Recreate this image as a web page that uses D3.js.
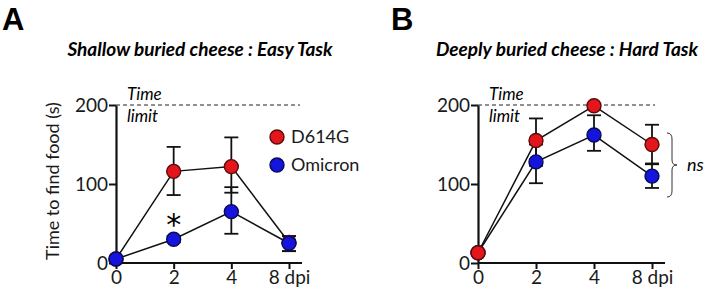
<!DOCTYPE html>
<html>
<head>
<meta charset="utf-8">
<script src="https://cdn.jsdelivr.net/npm/d3@7"></script>
<style>
  body { margin: 0; background: #fff; }
  svg { display: block; font-family: Lato, "Open Sans", sans-serif; }
</style>
</head>
<body>
<svg id="chart"></svg>
<script>
// x categories (days post infection)
const days = ["0", "2", "4", "8 dpi"];
const yTicks = [0, 100, 200];
const timeLimit = 200;

// panel A : easy task
const easyD614G = [5, 116, 122, 26];
const easyD614GHi = [5, 147, 159, 34];
const easyD614GLo = [5, 86, 89, 15];
const easyOmicron = [5, 30, 65, 25];
const easyOmicronHi = [5, 34, 96, 34];
const easyOmicronLo = [5, 26, 37, 15];

// panel B : hard task
const hardD614G = [13, 155, 199, 150];
const hardD614GHi = [13, 183, 199, 175];
const hardD614GLo = [13, 123, 199, 126];
const hardOmicron = [13, 128, 162, 110];
const hardOmicronHi = [13, 150, 187, 125];
const hardOmicronLo = [13, 101, 142, 95];

const red = {fill: "#e3161b", stroke: "#5c0a0a"};
const blue = {fill: "#1414dc", stroke: "#0a0a55"};

const svg = d3.select("#chart").attr("width", 709).attr("height", 291);

function drawPanel(cfg){
    let g = svg.append("g");
    let x = d3.scalePoint().domain(days).range([cfg.x0, cfg.x1]);
    let y = d3.scaleLinear().domain([0, 200]).range([263, 105]);

    g.append("text")
        .attr("x", cfg.letterX).attr("y", 30)
        .style("font-family", "Liberation Sans, Arial, sans-serif")
        .style("font-weight", "bold").style("font-size", "31px")
        .text(cfg.letter);
    g.append("text")
        .attr("x", cfg.titleX).attr("y", 56)
        .attr("text-anchor", "middle")
        .style("font-weight", "bold").style("font-style", "italic").style("font-size", "19px")
        .text(cfg.title);

    // time limit
    g.append("line")
        .attr("x1", cfg.x0).attr("x2", cfg.dashEnd)
        .attr("y1", y(timeLimit)).attr("y2", y(timeLimit))
        .attr("stroke", "#222").attr("stroke-width", 1).attr("stroke-dasharray", "4,3");
    g.append("text").attr("x", cfg.x0 + 11).attr("y", 100)
        .style("font-style", "italic").style("font-size", "17px").text("Time");
    g.append("text").attr("x", cfg.x0 + 11).attr("y", 122)
        .style("font-style", "italic").style("font-size", "17px").text("limit");

    // axes
    let yAxis = g.append("g")
        .attr("transform", `translate(${cfg.x0},0)`)
        .call(d3.axisLeft(y).tickValues(yTicks).tickSize(7).tickPadding(1).tickSizeOuter(0));
    let xAxis = g.append("g")
        .attr("transform", `translate(0,263)`)
        .call(d3.axisBottom(x).tickSize(6).tickPadding(2).tickSizeOuter(0));
    xAxis.select(".domain").attr("d", `M${cfg.x0},0H${cfg.axisEnd}`);
    [yAxis, xAxis].forEach(a => {
        a.select(".domain").attr("stroke", "#111").attr("stroke-width", 2.2);
        a.selectAll(".tick line").attr("stroke", "#111").attr("stroke-width", 2);
        a.selectAll(".tick text").attr("fill", "#1a1a1a")
            .style("font-family", "Lato, sans-serif").style("font-size", "19px");
    });

    // series
    cfg.series.forEach(s => {
        let pts = days.map((d, i) => ({d: d, v: s.vals[i], hi: s.hi[i], lo: s.lo[i]}));
        g.append("path")
            .datum(pts)
            .attr("fill", "none").attr("stroke", "#111").attr("stroke-width", 1.5)
            .attr("d", d3.line().x(p => x(p.d)).y(p => y(p.v)));
        let eb = g.append("g").selectAll("g").data(pts).join("g");
        eb.append("line")
            .attr("x1", p => x(p.d)).attr("x2", p => x(p.d))
            .attr("y1", p => y(p.hi)).attr("y2", p => y(p.lo))
            .attr("stroke", "#111").attr("stroke-width", 1.8);
        eb.append("line")
            .attr("x1", p => x(p.d) - 7).attr("x2", p => x(p.d) + 7)
            .attr("y1", p => y(p.hi)).attr("y2", p => y(p.hi))
            .attr("stroke", "#111").attr("stroke-width", 1.8);
        eb.append("line")
            .attr("x1", p => x(p.d) - 7).attr("x2", p => x(p.d) + 7)
            .attr("y1", p => y(p.lo)).attr("y2", p => y(p.lo))
            .attr("stroke", "#111").attr("stroke-width", 1.8);
    });
    cfg.series.forEach(s => {
        g.append("g").selectAll("circle")
            .data(s.vals)
            .join("circle")
            .attr("cx", (v, i) => x(days[i])).attr("cy", v => y(v))
            .attr("r", 7)
            .attr("fill", s.color.fill).attr("stroke", s.color.stroke).attr("stroke-width", 1.4);
    });
    return {g: g, x: x, y: y};
}

let pA = drawPanel({
    letter: "A", letterX: 2, title: "Shallow buried cheese : Easy Task", titleX: 200,
    x0: 116, x1: 289, axisEnd: 302, dashEnd: 300,
    series: [
        {vals: easyD614G, hi: easyD614GHi, lo: easyD614GLo, color: red},
        {vals: easyOmicron, hi: easyOmicronHi, lo: easyOmicronLo, color: blue}
    ]
});
let pB = drawPanel({
    letter: "B", letterX: 391, title: "Deeply buried cheese : Hard Task", titleX: 567,
    x0: 478, x1: 652, axisEnd: 665, dashEnd: 655,
    series: [
        {vals: hardOmicron, hi: hardOmicronHi, lo: hardOmicronLo, color: blue},
        {vals: hardD614G, hi: hardD614GHi, lo: hardD614GLo, color: red}
    ]
});

// y label
svg.append("text")
    .attr("transform", "translate(59,181) rotate(-90)")
    .attr("text-anchor", "middle")
    .style("font-size", "18px").attr("fill", "#1a1a1a")
    .text("Time to find food (s)");

// legend
const legend = [{name: "D614G", color: red}, {name: "Omicron", color: blue}];
let lg = svg.append("g").selectAll("g").data(legend).join("g")
    .attr("transform", (d, i) => `translate(277,${137 + i * 28})`);
lg.append("circle").attr("r", 7)
    .attr("fill", d => d.color.fill).attr("stroke", d => d.color.stroke).attr("stroke-width", 1.4);
lg.append("text").attr("x", 14).attr("y", 6)
    .style("font-size", "18px").attr("fill", "#1a1a1a")
    .text(d => d.name);

// significance marks
svg.append("text")
    .attr("x", pA.x("2")).attr("y", 235)
    .attr("text-anchor", "middle")
    .style("font-family", "DejaVu Sans, sans-serif").style("font-size", "30px")
    .text("*");

let bx = 667, by0 = 133, by1 = 197, bm = (by0 + by1) / 2;
svg.append("path")
    .attr("d", `M${bx},${by0} Q${bx + 5},${by0} ${bx + 5},${by0 + 6} L${bx + 5},${bm - 5} Q${bx + 5},${bm} ${bx + 10},${bm} Q${bx + 5},${bm} ${bx + 5},${bm + 5} L${bx + 5},${by1 - 6} Q${bx + 5},${by1} ${bx},${by1}`)
    .attr("fill", "none").attr("stroke", "#333").attr("stroke-width", 1);
svg.append("text")
    .attr("x", 687).attr("y", 171)
    .style("font-style", "italic").style("font-size", "18px")
    .text("ns");
</script>
</body>
</html>
